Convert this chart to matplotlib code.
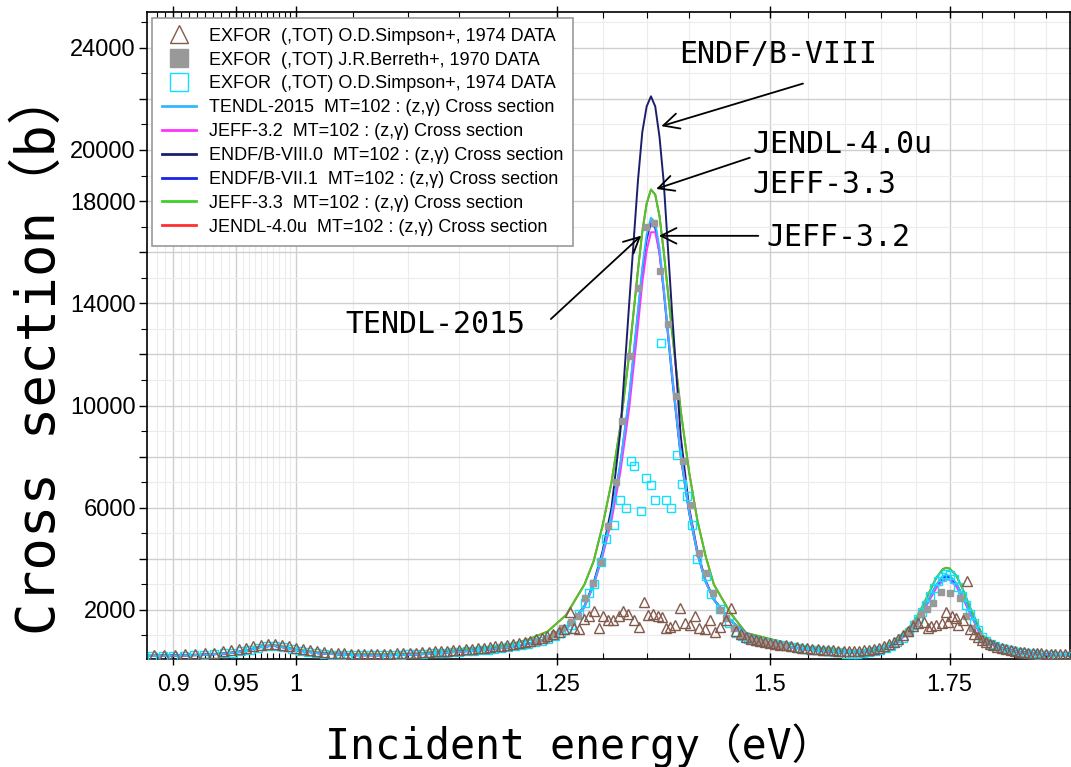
import numpy as np
import matplotlib
matplotlib.use('Agg')
import matplotlib.pyplot as plt
from matplotlib.ticker import FixedLocator, FixedFormatter

# evaluated (z,g) cross sections on a common energy grid
energy = [0.88, 0.90, 0.92, 0.94, 0.95, 0.96, 0.97, 0.98, 0.99, 1.00,
          1.02, 1.05, 1.08, 1.11, 1.14, 1.17, 1.20, 1.22, 1.24, 1.26,
          1.28, 1.29, 1.30, 1.31, 1.32, 1.33, 1.34, 1.345, 1.35, 1.355,
          1.36, 1.365, 1.37, 1.38, 1.39, 1.40, 1.41, 1.42, 1.43, 1.45,
          1.47, 1.50, 1.53, 1.56, 1.59, 1.62, 1.65, 1.67, 1.69, 1.70,
          1.71, 1.72, 1.73, 1.74, 1.745, 1.75, 1.76, 1.77, 1.78, 1.80,
          1.83, 1.86, 1.90, 1.94]

tendl_2015 = [200, 210, 235, 290, 340, 430, 555, 605, 530, 420,
              300, 230, 225, 260, 340, 420, 540, 680, 880, 1250,
              2150, 3000, 4200, 5750, 7750, 10400, 13750, 15400, 16700, 17350,
              17150, 16150, 14600, 11100, 8050, 5850, 4200, 3100, 2400, 1600,
              1080, 710, 530, 420, 340, 320, 430, 665, 1160, 1500,
              1940, 2460, 2980, 3320, 3370, 3340, 3060, 2540, 1980, 880,
              480, 340, 260, 210]

jeff_32 = [200, 210, 235, 290, 340, 430, 550, 600, 530, 420,
           300, 230, 225, 260, 340, 420, 535, 670, 870, 1230,
           2100, 2950, 4100, 5500, 7400, 9900, 13100, 14800, 16050, 16780,
           16780, 15950, 14500, 11200, 8150, 5900, 4250, 3100, 2400, 1600,
           1070, 700, 525, 415, 335, 315, 420, 650, 1130, 1450,
           1880, 2380, 2850, 3150, 3200, 3180, 2920, 2450, 1920, 860,
           475, 335, 255, 205]

endf_b8 = [200, 210, 235, 290, 340, 430, 550, 600, 530, 420,
           300, 230, 225, 260, 340, 420, 540, 680, 880, 1250,
           2150, 3050, 4300, 6000, 9000, 14000, 18800, 20700, 21700, 22100,
           21700, 20500, 18700, 13500, 8800, 6000, 4300, 3150, 2420, 1600,
           1080, 710, 530, 420, 340, 320, 430, 660, 1150, 1490,
           1940, 2460, 2970, 3300, 3350, 3320, 3040, 2520, 1960, 870,
           480, 340, 260, 210]

endf_b71 = [200, 210, 235, 290, 340, 430, 550, 600, 530, 420,
            300, 230, 225, 260, 340, 420, 540, 680, 880, 1250,
            2150, 3000, 4200, 5700, 7700, 10300, 13600, 15250, 16500, 17150,
            16950, 15950, 14450, 11000, 8000, 5800, 4200, 3100, 2400, 1600,
            1080, 710, 530, 420, 340, 320, 430, 660, 1150, 1480,
            1920, 2430, 2930, 3250, 3300, 3270, 3000, 2500, 1950, 870,
            480, 340, 260, 210]

jeff_33 = [210, 220, 250, 300, 350, 440, 570, 630, 560, 450,
           330, 270, 265, 300, 400, 500, 633, 850, 1150, 1800,
           3000, 3900, 5300, 7000, 9200, 12000, 15300, 16800, 17900, 18450,
           18250, 17400, 16000, 12800, 9800, 7400, 5500, 4100, 3000, 1900,
           1100, 865, 650, 510, 420, 400, 500, 760, 1300, 1650,
           2150, 2700, 3250, 3600, 3650, 3620, 3350, 2800, 2150, 1000,
           520, 360, 270, 220]

jendl_40u = [210, 220, 250, 300, 350, 440, 570, 630, 560, 450,
             330, 270, 265, 300, 400, 500, 633, 850, 1150, 1800,
             3000, 3900, 5300, 7000, 9200, 12000, 15300, 16800, 17900, 18450,
             18250, 17400, 16000, 12800, 9800, 7400, 5500, 4100, 3000, 1900,
             1100, 865, 650, 510, 420, 400, 500, 760, 1300, 1650,
             2150, 2700, 3250, 3600, 3650, 3620, 3350, 2800, 2150, 1000,
             520, 360, 270, 220]

# EXFOR (,TOT) O.D.Simpson+, 1974 -- triangles
simpson_tri_e = [0.885, 0.893, 0.901, 0.909, 0.917, 0.925, 0.932, 0.939, 0.946, 0.952,
                 0.958, 0.964, 0.970, 0.976, 0.982, 0.988, 0.994, 1.000, 1.006, 1.012,
                 1.018, 1.024, 1.030, 1.036, 1.042, 1.048, 1.054, 1.060, 1.066, 1.072,
                 1.078, 1.084, 1.090, 1.096, 1.102, 1.108, 1.114, 1.120, 1.126, 1.132,
                 1.138, 1.144, 1.150, 1.156, 1.162, 1.168, 1.174, 1.180, 1.186, 1.192,
                 1.198, 1.204, 1.210, 1.216, 1.222, 1.228, 1.234, 1.240, 1.246, 1.252,
                 1.258, 1.264, 1.269, 1.274, 1.279, 1.285, 1.290, 1.296, 1.301, 1.306,
                 1.312, 1.318, 1.323, 1.329, 1.336, 1.341, 1.347, 1.352, 1.357, 1.363,
                 1.368, 1.372, 1.377, 1.383, 1.389, 1.395, 1.401, 1.407, 1.412, 1.419,
                 1.425, 1.432, 1.438, 1.445, 1.451, 1.458, 1.464, 1.470, 1.476, 1.482,
                 1.488, 1.494, 1.500, 1.507, 1.514, 1.521, 1.528, 1.535, 1.542, 1.549,
                 1.556, 1.563, 1.570, 1.577, 1.584, 1.591, 1.598, 1.605, 1.612, 1.619,
                 1.626, 1.633, 1.640, 1.647, 1.654, 1.661, 1.668, 1.675, 1.682, 1.689,
                 1.696, 1.703, 1.712, 1.718, 1.723, 1.730, 1.738, 1.744, 1.748, 1.754,
                 1.759, 1.763, 1.770, 1.777, 1.781, 1.787, 1.793, 1.799, 1.805, 1.811,
                 1.817, 1.823, 1.830, 1.837, 1.844, 1.851, 1.858, 1.865, 1.872, 1.879,
                 1.886, 1.893, 1.900, 1.908, 1.916, 1.924, 1.932, 1.940]
simpson_tri_xs = [230, 250, 240, 260, 270, 300, 330, 380, 420, 460,
                  520, 580, 620, 660, 650, 620, 570, 520, 470, 420,
                  380, 350, 330, 310, 300, 290, 290, 280, 285, 290,
                  285, 295, 300, 310, 320, 330, 345, 360, 375, 390,
                  400, 420, 440, 460, 480, 500, 520, 550, 570, 600,
                  630, 660, 700, 740, 790, 850, 910, 980, 1060, 1150,
                  1260, 1930, 1280, 1240, 1650, 1770, 1970, 1280, 1770, 1610,
                  1610, 1770, 1970, 1840, 1610, 1350, 2330, 1800, 1840, 1770,
                  1740, 1280, 1350, 1410, 2070, 1480, 1410, 1770, 1280, 1240,
                  1610, 1150, 1350, 1600, 2070, 1180, 1050, 950, 880, 820,
                  780, 740, 720, 680, 640, 610, 580, 550, 530, 510,
                  490, 470, 450, 430, 420, 400, 390, 385, 390, 400,
                  420, 450, 480, 520, 580, 650, 730, 850, 1000, 1180,
                  1380, 1500, 1540, 1300, 1370, 1410, 1500, 1930, 1540, 1770,
                  1680, 1410, 1600, 3150, 1250, 1050, 930, 830, 740, 670,
                  610, 560, 500, 460, 420, 390, 370, 350, 330, 320,
                  310, 300, 290, 280, 275, 270, 265, 260]

# EXFOR (,TOT) J.R.Berreth+, 1970 -- grey squares
berreth_e = [1.229, 1.238, 1.247, 1.256, 1.265, 1.273, 1.281, 1.289, 1.298, 1.306,
             1.315, 1.322, 1.331, 1.340, 1.349, 1.358, 1.365, 1.375, 1.384, 1.393,
             1.402, 1.412, 1.421, 1.429, 1.438, 1.445, 1.455, 1.465, 1.474, 1.483,
             1.492, 1.501, 1.510, 1.519, 1.690, 1.699, 1.708, 1.716, 1.725, 1.737,
             1.751, 1.765, 1.775, 1.784, 1.793, 1.802]
berreth_xs = [760, 880, 1050, 1300, 1540, 1770, 2460, 3050, 3890, 5270,
              7020, 9400, 11940, 14600, 16990, 17130, 15270, 13200, 10380, 7830,
              6110, 4220, 3440, 2650, 2000, 1680, 1280, 1020, 900, 800,
              730, 680, 630, 590, 1150, 1500, 1850, 2050, 2260, 2720,
              2650, 2460, 1780, 1300, 1000, 800]

# EXFOR (,TOT) O.D.Simpson+, 1974 -- open cyan squares
simpson_sq_e = [0.884, 0.892, 0.900, 0.908, 0.916, 0.924, 0.932, 0.940, 0.947, 0.954,
                0.961, 0.968, 0.975, 0.982, 0.989, 0.996, 1.003, 1.010, 1.017, 1.024,
                1.031, 1.038, 1.045, 1.052, 1.059, 1.066, 1.073, 1.080, 1.087, 1.094,
                1.101, 1.108, 1.115, 1.122, 1.129, 1.136, 1.143, 1.150, 1.157, 1.164,
                1.171, 1.178, 1.185, 1.192, 1.199, 1.206, 1.213, 1.220, 1.227, 1.234,
                1.241, 1.248, 1.255, 1.261, 1.265, 1.274, 1.281, 1.285, 1.291, 1.298,
                1.304, 1.313, 1.319, 1.326, 1.332, 1.336, 1.344, 1.349, 1.355, 1.360,
                1.367, 1.372, 1.378, 1.386, 1.392, 1.398, 1.404, 1.409, 1.420, 1.427,
                1.437, 1.449, 1.457, 1.465, 1.473, 1.481, 1.489, 1.497, 1.505, 1.513,
                1.521, 1.529, 1.537, 1.545, 1.553, 1.561, 1.569, 1.577, 1.585, 1.593,
                1.601, 1.609, 1.617, 1.625, 1.633, 1.641, 1.649, 1.657, 1.665, 1.673,
                1.681, 1.690, 1.697, 1.703, 1.709, 1.715, 1.721, 1.727, 1.733, 1.739,
                1.745, 1.751, 1.757, 1.763, 1.769, 1.775, 1.781, 1.787, 1.793, 1.799,
                1.806, 1.813, 1.820, 1.827, 1.834, 1.841, 1.848, 1.855, 1.862, 1.869,
                1.876, 1.883, 1.890, 1.897, 1.904, 1.911, 1.918, 1.925, 1.932, 1.939]
simpson_sq_xs = [190, 200, 210, 215, 225, 245, 270, 300, 330, 380,
                 450, 530, 590, 600, 540, 460, 400, 350, 310, 280,
                 255, 240, 230, 225, 220, 220, 225, 230, 240, 250,
                 260, 275, 290, 300, 315, 330, 350, 370, 390, 405,
                 425, 450, 480, 510, 540, 580, 630, 670, 730, 800,
                 880, 980, 1100, 1250, 1430, 1840, 2270, 2660, 3030, 3880,
                 4780, 5340, 6290, 5970, 7830, 7650, 5880, 7160, 6880, 6320,
                 12430, 6290, 5970, 8070, 6920, 6460, 5340, 4010, 3320, 2610,
                 2050, 1500, 1080, 980, 880, 800, 740, 690, 650, 610,
                 570, 540, 510, 480, 450, 420, 400, 380, 360, 345,
                 290, 285, 290, 300, 340, 380, 440, 510, 600, 730,
                 900, 1150, 1400, 1650, 1900, 2200, 2550, 2850, 3150, 3300,
                 3400, 3350, 3200, 2900, 2550, 2200, 1850, 1500, 1200, 950,
                 800, 680, 590, 520, 470, 420, 380, 350, 320, 300,
                 280, 260, 250, 240, 230, 220, 210, 205, 200, 195]

major_e = [0.9, 0.95, 1.0, 1.25, 1.5, 1.75]
major_e_labels = ['0.9', '0.95', '1', '1.25', '1.5', '1.75']
xs_ticks = [2000, 4000, 6000, 8000, 10000, 12000, 14000, 16000, 18000, 20000, 22000, 24000]
xs_tick_labels = ['2000', '', '6000', '', '10000', '', '14000', '', '18000', '20000', '', '24000']

plt.rcParams['font.family'] = ['Liberation Sans', 'DejaVu Sans']
label_font = ['DejaVu Sans Mono', 'Noto Sans CJK JP']

fig = plt.figure(figsize=(10.71, 7.67), dpi=100)
ax = fig.add_axes([0.1373, 0.1408, 0.8617, 0.8436])
ax.set_xscale('log')

# evaluated data
ax.plot(energy, jendl_40u, color='#ff3030', lw=1.4, zorder=2)
ax.plot(energy, jeff_33, color='#3fcf2a', lw=1.4, zorder=2.1)
ax.plot(energy, endf_b8, color='#1b1f6b', lw=1.4, zorder=2.2)
ax.plot(energy, endf_b71, color='#1a22ee', lw=1.4, zorder=2.3)
ax.plot(energy, jeff_32, color='#ff33ff', lw=1.4, zorder=2.4)
ax.plot(energy, tendl_2015, color='#33b8ff', lw=1.4, zorder=2.5)

# measurements
ax.plot(simpson_sq_e, simpson_sq_xs, ls='none', marker='s', ms=6, mfc='none',
        mec='#10e0ff', mew=1.0, zorder=3)
ax.plot(berreth_e, berreth_xs, ls='none', marker='s', ms=5, mfc='#999999',
        mec='#999999', zorder=3.5)
ax.plot(simpson_tri_e, simpson_tri_xs, ls='none', marker='^', ms=6.5, mfc='none',
        mec='#83594c', mew=1.0, zorder=4)

ax.set_xlim(0.88, 1.94)
ax.set_ylim(80, 25400)

ax.xaxis.set_major_locator(FixedLocator(major_e))
ax.xaxis.set_major_formatter(FixedFormatter(major_e_labels))
minor_e = list(np.arange(0.8875, 0.949, 0.00625)) + list(np.arange(0.955, 0.999, 0.005)) \
    + [1.05, 1.1, 1.15, 1.2, 1.3, 1.35, 1.4, 1.45, 1.55, 1.6, 1.65, 1.7, 1.8, 1.85, 1.9]
ax.xaxis.set_minor_locator(FixedLocator(minor_e))
ax.xaxis.set_minor_formatter(FixedFormatter([''] * len(minor_e)))

ax.yaxis.set_major_locator(FixedLocator(xs_ticks))
ax.yaxis.set_major_formatter(FixedFormatter(xs_tick_labels))
ax.yaxis.set_minor_locator(FixedLocator(list(range(1000, 26000, 2000))))

ax.tick_params(axis='x', which='major', direction='inout', length=9, width=1,
               labelsize=17, pad=6, top=True)
ax.tick_params(axis='x', which='minor', direction='in', length=4, width=0.8, top=True)
ax.tick_params(axis='y', which='major', direction='out', length=6, width=1,
               labelsize=17, pad=2, right=True)
ax.tick_params(axis='y', which='minor', direction='out', length=4, width=0.8, right=True)

ax.grid(True, which='major', color='#cfcfcf', lw=1.0, zorder=0)
ax.grid(True, which='minor', color='#ececec', lw=0.8, zorder=0)
ax.set_axisbelow(True)
for s in ax.spines.values():
    s.set_linewidth(1.2)

ax.set_ylabel('Cross section（b）', fontsize=39, family=label_font)
ax.yaxis.set_label_coords(-0.088, 0.474)
ax.set_xlabel('Incident energy（eV）', fontsize=30, family=label_font)
ax.xaxis.set_label_coords(0.468, -0.099)

# library labels with arrows
arrow = dict(arrowstyle='->', color='black', lw=1.3, mutation_scale=28)
txt = dict(fontsize=21.5, family=label_font, va='center')
ax.annotate('', xy=(1.364, 20900), xytext=(1.547, 22630), arrowprops=arrow)
ax.text(1.388, 23720, 'ENDF/B-VIII', **txt)
ax.annotate('', xy=(1.358, 18440), xytext=(1.478, 19730), arrowprops=arrow)
ax.text(1.478, 20200, 'JENDL-4.0u', **txt)
ax.text(1.478, 18640, 'JEFF-3.3', **txt)
ax.annotate('', xy=(1.361, 16640), xytext=(1.489, 16640), arrowprops=arrow)
ax.text(1.496, 16560, 'JEFF-3.2', **txt)
ax.annotate('', xy=(1.346, 16720), xytext=(1.2415, 13310), arrowprops=arrow)
ax.text(1.217, 13160, 'TENDL-2015', ha='right', **txt)

# legend
h = [
    plt.Line2D([], [], ls='none', marker='^', ms=13, mfc='none', mec='#83594c', mew=1.0),
    plt.Line2D([], [], ls='none', marker='s', ms=13, mfc='#999999', mec='#999999'),
    plt.Line2D([], [], ls='none', marker='s', ms=13, mfc='none', mec='#10e0ff', mew=1.0),
    plt.Line2D([], [], color='#33b8ff', lw=2),
    plt.Line2D([], [], color='#ff33ff', lw=2),
    plt.Line2D([], [], color='#1b1f6b', lw=2),
    plt.Line2D([], [], color='#1a22ee', lw=2),
    plt.Line2D([], [], color='#3fcf2a', lw=2),
    plt.Line2D([], [], color='#ff3030', lw=2),
]
labels = [
    'EXFOR  (,TOT) O.D.Simpson+, 1974 DATA',
    'EXFOR  (,TOT) J.R.Berreth+, 1970 DATA',
    'EXFOR  (,TOT) O.D.Simpson+, 1974 DATA',
    'TENDL-2015  MT=102 : (z,γ) Cross section',
    'JEFF-3.2  MT=102 : (z,γ) Cross section',
    'ENDF/B-VIII.0  MT=102 : (z,γ) Cross section',
    'ENDF/B-VII.1  MT=102 : (z,γ) Cross section',
    'JEFF-3.3  MT=102 : (z,γ) Cross section',
    'JENDL-4.0u  MT=102 : (z,γ) Cross section',
]
leg = ax.legend(h, labels, loc='upper left', bbox_to_anchor=(0.005, 0.991),
                fontsize=13, frameon=True, fancybox=False, framealpha=1,
                edgecolor='#999999', borderaxespad=0, labelspacing=0.38,
                handlelength=1.9, handletextpad=0.7, borderpad=0.55)
leg.get_frame().set_linewidth(1.2)
leg.set_zorder(10)

fig.savefig('out.png', dpi=100)
